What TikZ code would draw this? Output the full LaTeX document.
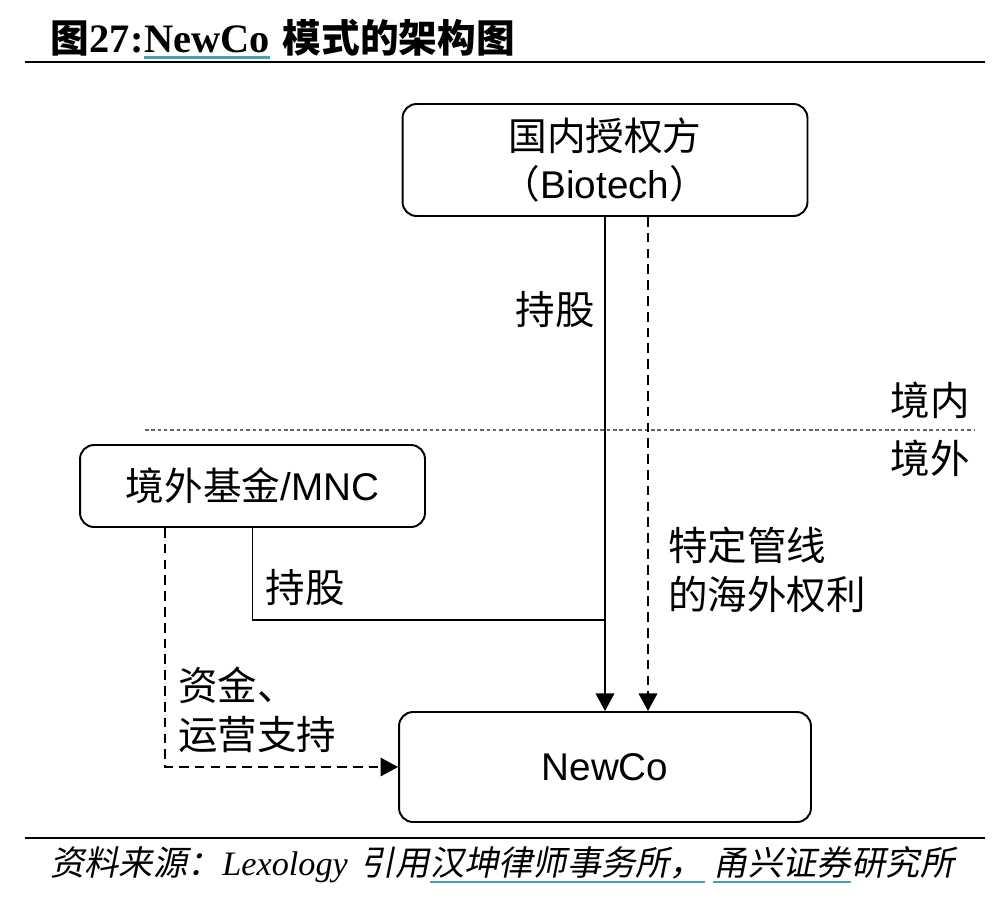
\documentclass[tikz,border=0pt]{standalone}
\usepackage{fontspec}
\setmainfont{Liberation Sans}
\newfontfamily\cjk{Noto Sans CJK SC}
\newfontfamily\cjkslant[FakeSlant=0.2]{Noto Sans CJK SC}
\newfontfamily\timesfont{Liberation Serif}
\usepackage{xcolor}
\usetikzlibrary{arrows.meta,positioning}
\definecolor{linkteal}{RGB}{70,160,180}

\begin{document}
\begin{tikzpicture}[x=0.02cm,y=-0.02cm,
  entity/.style={draw,line width=1.1pt,rounded corners=0.28cm,align=center,font=\fontsize{22}{27}\selectfont},
  lbl/.style={inner sep=0pt,align=left,font=\fontsize{22.5}{28}\selectfont\cjk},
  piece/.style={anchor=base west,inner sep=0pt},
  srcfont/.style={font=\fontsize{19.5}{22}\selectfont\cjkslant},
  flow/.style={line width=1.1pt,-{Triangle[length=10pt,width=10.5pt]}},
  dashline/.style={dash pattern=on 5.5pt off 3.5pt},
  border/.style={gray!80!black,line width=0.6pt,dash pattern=on 2pt off 1.6pt},
  rulecol/.style={line width=1.3pt},
  under/.style={linkteal,line width=1.6pt}]
\useasboundingbox (0,0) rectangle (1000,900);

% title and rules
\node[piece,font=\fontsize{22}{26}\selectfont\cjk\bfseries] (ttlfig) at (50,52) {图};
\node[piece,font=\fontsize{23}{26}\selectfont\timesfont\bfseries] (ttlnum) at (ttlfig.base east) {27:};
\node[piece,font=\fontsize{23}{26}\selectfont\timesfont\bfseries] (ttlname) at (ttlnum.base east) {NewCo};
\node[piece,font=\fontsize{22}{26}\selectfont\cjk\bfseries] (ttlrest) at ([xshift=7pt]ttlname.base east) {模式的架构图};
\draw[under] ([yshift=-3pt]ttlname.base west) -- ([yshift=-3pt]ttlname.base east);
\draw[rulecol] (25,62) -- (985,62);
\draw[rulecol] (25,838) -- (985,838);

% boxes
\node[entity,minimum width=8.1cm,minimum height=2.24cm] (biotech) at (605,160)
  {{\cjk 国内授权方}\\{\cjk （}Biotech{\cjk ）}};
\node[entity,minimum width=6.9cm,minimum height=1.64cm] (mnc) at (252.5,486)
  {{\cjk 境外基金}/MNC};
\node[entity,minimum width=8.24cm,minimum height=2.2cm] (newco) at (605,767) {NewCo};

% domestic / overseas border
\draw[border] (145,430) -- (975,430);
\node[lbl] (inside) at (930,400) {境内};
\node[lbl] (outside) at (930,458) {境外};

% connectors
\coordinate (rights) at ([xshift=0.86cm]biotech.south);
\coordinate (join) at (605,620);
\coordinate (fund) at ([xshift=-1.75cm]mnc.south);
\draw[flow] (biotech.south) -- (newco.north);
\draw[flow,dashline] (rights) -- (rights |- newco.north);
\draw[line width=1.1pt] (mnc.south) |- (join);
\draw[flow,dashline] (fund) |- (newco.west);

% labels
\node[lbl] (hold1) at (555,310) {持股};
\node[lbl] (hold2) at (305,588) {持股};
\node[lbl,anchor=west] (pipe) at (668,570) {特定管线\\的海外权利};
\node[lbl,anchor=west] (money) at (178,710) {资金、\\运营支持};

% source
\node[piece,srcfont] (src1) at (50,875) {资料来源：};
\node[piece,font=\fontsize{19.5}{22}\selectfont\timesfont\itshape] (src2) at (src1.base east) {Lexology};
\node[piece,srcfont] (src3) at ([xshift=7pt]src2.base east) {引用};
\node[piece,srcfont] (src4) at (src3.base east) {汉坤律师事务所，};
\node[piece,srcfont] (src5) at ([xshift=5pt]src4.base east) {甬兴证券};
\node[piece,srcfont] (src6) at (src5.base east) {研究所};
\draw[under] ([yshift=-4pt]src4.base west) -- ([yshift=-4pt]src4.base east);
\draw[under] ([yshift=-4pt]src5.base west) -- ([yshift=-4pt]src5.base east);
\end{tikzpicture}
\end{document}
